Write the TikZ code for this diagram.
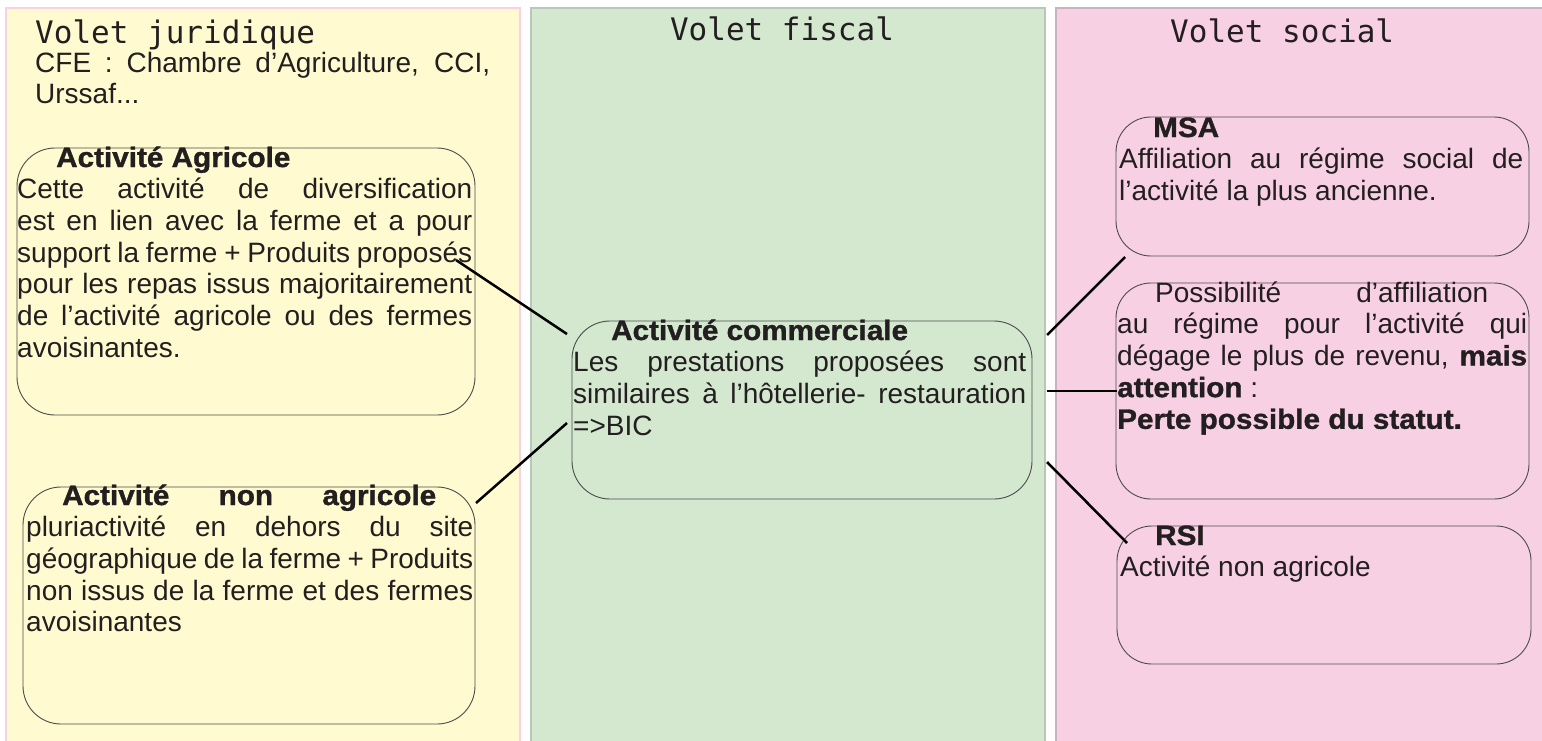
\documentclass[tikz,border=0pt]{standalone}
\usepackage{fontspec}
\setmainfont{Liberation Sans}[BoldFeatures={FakeStretch=1.06,FakeBold=1.2}]
\newfontfamily\voletfont{DejaVu Sans Mono}
\usetikzlibrary{positioning,calc}
\definecolor{jaune}{HTML}{FFFAD0}
\definecolor{jauneBord}{HTML}{F8D2E4}
\definecolor{vert}{HTML}{D4E8D0}
\definecolor{vertBord}{HTML}{B8C8B8}
\definecolor{rose}{HTML}{F8D0E3}
\definecolor{roseBord}{HTML}{C8B4BE}
\definecolor{encre}{HTML}{231F20}
\newcommand{\corps}{\fontsize{28}{31.7}\selectfont\hyphenpenalty=10000\exhyphenpenalty=10000}

\begin{document}
\begin{tikzpicture}[x=1pt,y=-1pt]
  \tikzset{volet/.style={anchor=base west, inner sep=0, font=\voletfont\fontsize{31}{31}\selectfont, text=encre},
    bloc/.style={draw=black!70, line width=0.9pt, rounded corners=38pt, inner sep=0, outer sep=0, anchor=north west},
    texte/.style={anchor=base west, inner sep=0, text=encre},
    lien/.style={line width=2.5pt, draw=black}}
  \useasboundingbox (0,0) rectangle (1542,740);

  % fonds des trois volets
  \filldraw[fill=jaune, draw=jauneBord, line width=2.5pt] (6,8) rectangle (520,760);
  \filldraw[fill=vert, draw=vertBord, line width=2.5pt] (531,8) rectangle (1045,760);
  \filldraw[fill=rose, draw=roseBord, line width=2.5pt] (1056,8) rectangle (1560,760);

  \node[volet] (jur) at (35,43) {Volet juridique};
  \node[volet, anchor=base] (fis) at (782,40) {Volet fiscal};
  \node[volet] (soc) at (1170,42) {Volet social};

  \node[texte] (cfe) at (35,72) {\parbox[t]{455pt}{\corps CFE : Chambre d’Agriculture, CCI,\linebreak Urssaf...}};

  % cadres
  \node[bloc, minimum width=458pt, minimum height=267pt] (agri) at (17,148) {};
  \node[bloc, minimum width=452pt, minimum height=237pt] (nonagri) at (23,487) {};
  \node[bloc, minimum width=460pt, minimum height=178pt] (comm) at (572,321) {};
  \node[bloc, minimum width=413pt, minimum height=139pt, rounded corners=35pt] (msa) at (1116,117) {};
  \node[bloc, minimum width=413pt, minimum height=216pt, rounded corners=35pt] (poss) at (1116,283) {};
  \node[bloc, minimum width=414pt, minimum height=138pt, rounded corners=35pt] (rsi) at (1117,526) {};

  \node[texte] (agriT) at (17,167) {\parbox[t]{455pt}{\corps\hspace*{39pt}\textbf{Activité Agricole}\\
    Cette activité de diversification\linebreak est en lien avec la ferme et a pour\linebreak
    support la ferme + Produits proposés\linebreak pour les repas issus majoritairement\linebreak
    de l’activité agricole ou des fermes\linebreak avoisinantes.}};
  \node[texte] (nonagriT) at (26,505) {\parbox[t]{447pt}{\corps\hspace*{36pt}\textbf{Activité}\hfill\textbf{non}\hfill\textbf{agricole}\hspace*{37pt}\\
    pluriactivité en dehors du site\linebreak géographique de la ferme + Produits\linebreak
    non issus de la ferme et des fermes\linebreak avoisinantes}};
  \node[texte] (commT) at (573,340) {\parbox[t]{453pt}{\corps\hspace*{38pt}\textbf{Activité commerciale}\\
    Les prestations proposées sont\linebreak similaires à l’hôtellerie- restauration\linebreak =>BIC}};
  \node[texte] (msaT) at (1119,137) {\parbox[t]{404pt}{\corps\hspace*{34pt}\textbf{MSA}\\
    Affiliation au régime social de\linebreak l’activité la plus ancienne.}};
  \node[texte] (possT) at (1117,302) {\parbox[t]{410pt}{\corps\hspace*{38pt}Possibilité\hfill d’affiliation\hspace*{39pt}\\
    au régime pour l’activité qui\linebreak dégage le plus de revenu, \textbf{mais}\linebreak
    \textbf{attention} :\\ \textbf{Perte possible du statut.}}};
  \node[texte] (rsiT) at (1120,545) {\parbox[t]{410pt}{\corps\hspace*{35pt}\textbf{RSI}\\
    Activité non agricole}};

  % liens
  \draw[lien] ($(agri.north east)+(-19,112)$) -- ($(comm.north west)+(-5,13)$);
  \draw[lien] ($(nonagri.north east)+(1,16)$) -- ($(comm.north west)+(-5,102)$);
  \draw[lien] ($(comm.north east)+(15,14)$) -- ($(msa.south west)+(9,1)$);
  \draw[lien] ($(comm.north east)+(15,70)$) -- ($(poss.north west)+(1,108)$);
  \draw[lien] ($(comm.north east)+(15,141)$) -- ($(rsi.north west)+(10,17)$);
\end{tikzpicture}
\end{document}
